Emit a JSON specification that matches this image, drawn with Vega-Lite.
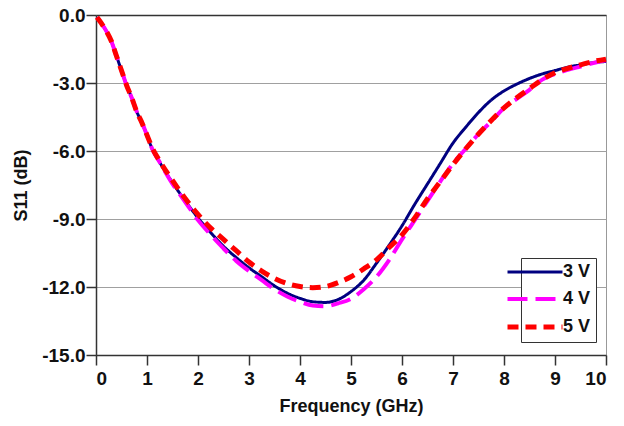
{
  "$schema": "https://vega.github.io/schema/vega-lite/v6.json",
  "width": 510,
  "height": 340,
  "autosize": "none",
  "padding": {"left": 96, "top": 15, "right": 18, "bottom": 71},
  "background": "white",
  "config": {
    "font": "Liberation Sans",
    "view": {"stroke": "#999", "strokeWidth": 1},
    "axis": {
      "labelFont": "Liberation Sans",
      "titleFont": "Liberation Sans",
      "labelFontSize": 19,
      "labelFontWeight": "bold",
      "labelColor": "#111",
      "titleFontSize": 18,
      "titleFontWeight": "bold",
      "titleColor": "#111",
      "domainColor": "#333",
      "tickColor": "#333",
      "tickSize": 10,
      "domainWidth": 1.5,
      "tickWidth": 1.5
    }
  },
  "data": {
    "values": [
      {"f": 0.02, "s": -0.1, "v": "3 V"},
      {"f": 0.1, "s": -0.35, "v": "3 V"},
      {"f": 0.2, "s": -0.7, "v": "3 V"},
      {"f": 0.3, "s": -1.15, "v": "3 V"},
      {"f": 0.4, "s": -1.8, "v": "3 V"},
      {"f": 0.5, "s": -2.45, "v": "3 V"},
      {"f": 0.6, "s": -3.1, "v": "3 V"},
      {"f": 0.7, "s": -3.65, "v": "3 V"},
      {"f": 0.8, "s": -4.27, "v": "3 V"},
      {"f": 0.9, "s": -4.75, "v": "3 V"},
      {"f": 1.0, "s": -5.3, "v": "3 V"},
      {"f": 1.1, "s": -5.9, "v": "3 V"},
      {"f": 1.25, "s": -6.5, "v": "3 V"},
      {"f": 1.5, "s": -7.4, "v": "3 V"},
      {"f": 1.75, "s": -8.2, "v": "3 V"},
      {"f": 2.0, "s": -8.95, "v": "3 V"},
      {"f": 2.25, "s": -9.6, "v": "3 V"},
      {"f": 2.5, "s": -10.2, "v": "3 V"},
      {"f": 2.75, "s": -10.7, "v": "3 V"},
      {"f": 3.0, "s": -11.15, "v": "3 V"},
      {"f": 3.25, "s": -11.55, "v": "3 V"},
      {"f": 3.5, "s": -11.95, "v": "3 V"},
      {"f": 3.75, "s": -12.27, "v": "3 V"},
      {"f": 4.0, "s": -12.5, "v": "3 V"},
      {"f": 4.25, "s": -12.65, "v": "3 V"},
      {"f": 4.5, "s": -12.68, "v": "3 V"},
      {"f": 4.75, "s": -12.55, "v": "3 V"},
      {"f": 5.0, "s": -12.2, "v": "3 V"},
      {"f": 5.25, "s": -11.7, "v": "3 V"},
      {"f": 5.5, "s": -10.95, "v": "3 V"},
      {"f": 5.75, "s": -10.15, "v": "3 V"},
      {"f": 6.0, "s": -9.3, "v": "3 V"},
      {"f": 6.25, "s": -8.35, "v": "3 V"},
      {"f": 6.5, "s": -7.45, "v": "3 V"},
      {"f": 6.75, "s": -6.55, "v": "3 V"},
      {"f": 7.0, "s": -5.65, "v": "3 V"},
      {"f": 7.25, "s": -4.95, "v": "3 V"},
      {"f": 7.5, "s": -4.3, "v": "3 V"},
      {"f": 7.75, "s": -3.75, "v": "3 V"},
      {"f": 8.0, "s": -3.35, "v": "3 V"},
      {"f": 8.25, "s": -3.05, "v": "3 V"},
      {"f": 8.5, "s": -2.8, "v": "3 V"},
      {"f": 8.75, "s": -2.6, "v": "3 V"},
      {"f": 9.0, "s": -2.45, "v": "3 V"},
      {"f": 9.25, "s": -2.3, "v": "3 V"},
      {"f": 9.5, "s": -2.2, "v": "3 V"},
      {"f": 9.75, "s": -2.1, "v": "3 V"},
      {"f": 10.0, "s": -2.05, "v": "3 V"},

      {"f": 0.02, "s": -0.1, "v": "4 V"},
      {"f": 0.1, "s": -0.35, "v": "4 V"},
      {"f": 0.2, "s": -0.7, "v": "4 V"},
      {"f": 0.3, "s": -1.15, "v": "4 V"},
      {"f": 0.4, "s": -1.8, "v": "4 V"},
      {"f": 0.5, "s": -2.45, "v": "4 V"},
      {"f": 0.6, "s": -3.1, "v": "4 V"},
      {"f": 0.7, "s": -3.65, "v": "4 V"},
      {"f": 0.8, "s": -4.27, "v": "4 V"},
      {"f": 0.9, "s": -4.75, "v": "4 V"},
      {"f": 1.0, "s": -5.3, "v": "4 V"},
      {"f": 1.1, "s": -5.9, "v": "4 V"},
      {"f": 1.25, "s": -6.5, "v": "4 V"},
      {"f": 1.5, "s": -7.45, "v": "4 V"},
      {"f": 1.75, "s": -8.25, "v": "4 V"},
      {"f": 2.0, "s": -9.05, "v": "4 V"},
      {"f": 2.25, "s": -9.7, "v": "4 V"},
      {"f": 2.5, "s": -10.3, "v": "4 V"},
      {"f": 2.75, "s": -10.85, "v": "4 V"},
      {"f": 3.0, "s": -11.3, "v": "4 V"},
      {"f": 3.25, "s": -11.7, "v": "4 V"},
      {"f": 3.5, "s": -12.1, "v": "4 V"},
      {"f": 3.75, "s": -12.42, "v": "4 V"},
      {"f": 4.0, "s": -12.65, "v": "4 V"},
      {"f": 4.25, "s": -12.82, "v": "4 V"},
      {"f": 4.5, "s": -12.85, "v": "4 V"},
      {"f": 4.75, "s": -12.72, "v": "4 V"},
      {"f": 5.0, "s": -12.52, "v": "4 V"},
      {"f": 5.25, "s": -12.1, "v": "4 V"},
      {"f": 5.5, "s": -11.55, "v": "4 V"},
      {"f": 5.75, "s": -10.8, "v": "4 V"},
      {"f": 6.0, "s": -9.9, "v": "4 V"},
      {"f": 6.25, "s": -9.05, "v": "4 V"},
      {"f": 6.5, "s": -8.2, "v": "4 V"},
      {"f": 6.75, "s": -7.35, "v": "4 V"},
      {"f": 7.0, "s": -6.55, "v": "4 V"},
      {"f": 7.25, "s": -5.9, "v": "4 V"},
      {"f": 7.5, "s": -5.25, "v": "4 V"},
      {"f": 7.75, "s": -4.7, "v": "4 V"},
      {"f": 8.0, "s": -4.1, "v": "4 V"},
      {"f": 8.25, "s": -3.7, "v": "4 V"},
      {"f": 8.5, "s": -3.3, "v": "4 V"},
      {"f": 8.75, "s": -2.85, "v": "4 V"},
      {"f": 9.0, "s": -2.6, "v": "4 V"},
      {"f": 9.25, "s": -2.42, "v": "4 V"},
      {"f": 9.5, "s": -2.27, "v": "4 V"},
      {"f": 9.75, "s": -2.12, "v": "4 V"},
      {"f": 10.0, "s": -2.0, "v": "4 V"},

      {"f": 0.02, "s": -0.1, "v": "5 V"},
      {"f": 0.1, "s": -0.35, "v": "5 V"},
      {"f": 0.2, "s": -0.7, "v": "5 V"},
      {"f": 0.3, "s": -1.15, "v": "5 V"},
      {"f": 0.4, "s": -1.8, "v": "5 V"},
      {"f": 0.5, "s": -2.45, "v": "5 V"},
      {"f": 0.6, "s": -3.1, "v": "5 V"},
      {"f": 0.7, "s": -3.65, "v": "5 V"},
      {"f": 0.8, "s": -4.27, "v": "5 V"},
      {"f": 0.9, "s": -4.75, "v": "5 V"},
      {"f": 1.0, "s": -5.3, "v": "5 V"},
      {"f": 1.1, "s": -5.85, "v": "5 V"},
      {"f": 1.25, "s": -6.45, "v": "5 V"},
      {"f": 1.5, "s": -7.3, "v": "5 V"},
      {"f": 1.75, "s": -8.1, "v": "5 V"},
      {"f": 2.0, "s": -8.8, "v": "5 V"},
      {"f": 2.25, "s": -9.4, "v": "5 V"},
      {"f": 2.5, "s": -9.9, "v": "5 V"},
      {"f": 2.75, "s": -10.4, "v": "5 V"},
      {"f": 3.0, "s": -10.9, "v": "5 V"},
      {"f": 3.25, "s": -11.3, "v": "5 V"},
      {"f": 3.5, "s": -11.62, "v": "5 V"},
      {"f": 3.75, "s": -11.85, "v": "5 V"},
      {"f": 4.0, "s": -11.98, "v": "5 V"},
      {"f": 4.25, "s": -12.03, "v": "5 V"},
      {"f": 4.5, "s": -11.98, "v": "5 V"},
      {"f": 4.75, "s": -11.8, "v": "5 V"},
      {"f": 5.0, "s": -11.55, "v": "5 V"},
      {"f": 5.25, "s": -11.2, "v": "5 V"},
      {"f": 5.5, "s": -10.8, "v": "5 V"},
      {"f": 5.75, "s": -10.25, "v": "5 V"},
      {"f": 6.0, "s": -9.7, "v": "5 V"},
      {"f": 6.25, "s": -8.95, "v": "5 V"},
      {"f": 6.5, "s": -8.1, "v": "5 V"},
      {"f": 6.75, "s": -7.35, "v": "5 V"},
      {"f": 7.0, "s": -6.6, "v": "5 V"},
      {"f": 7.25, "s": -5.9, "v": "5 V"},
      {"f": 7.5, "s": -5.25, "v": "5 V"},
      {"f": 7.75, "s": -4.65, "v": "5 V"},
      {"f": 8.0, "s": -4.1, "v": "5 V"},
      {"f": 8.25, "s": -3.65, "v": "5 V"},
      {"f": 8.5, "s": -3.25, "v": "5 V"},
      {"f": 8.75, "s": -2.85, "v": "5 V"},
      {"f": 9.0, "s": -2.55, "v": "5 V"},
      {"f": 9.25, "s": -2.35, "v": "5 V"},
      {"f": 9.5, "s": -2.2, "v": "5 V"},
      {"f": 9.75, "s": -2.05, "v": "5 V"},
      {"f": 10.0, "s": -1.95, "v": "5 V"}
    ]
  },
  "mark": {"type": "line", "interpolate": "monotone", "strokeCap": "butt"},
  "encoding": {
    "x": {
      "field": "f",
      "type": "quantitative",
      "scale": {"domain": [0, 10], "nice": false},
      "axis": {
        "title": "Frequency (GHz)",
        "values": [0, 1, 2, 3, 4, 5, 6, 7, 8, 9, 10],
        "format": "d",
        "grid": false,
        "labelPadding": 4,
        "titlePadding": 9
      }
    },
    "y": {
      "field": "s",
      "type": "quantitative",
      "scale": {"domain": [-15, 0], "nice": false, "zero": false},
      "axis": {
        "title": "S11 (dB)",
        "values": [-15, -12, -9, -6, -3, 0],
        "labelExpr": "replace(format(datum.value, '.1f'), '\u2212', '-')",
        "labelPadding": 1,
        "titlePadding": 11,
        "grid": true,
        "gridColor": {"condition": {"test": "datum.value === 0", "value": "#333"}, "value": "#a0a0a0"},
        "gridWidth": {"condition": {"test": "datum.value === 0", "value": 1.5}, "value": 1}
      }
    },
    "color": {
      "field": "v",
      "type": "nominal",
      "scale": {"domain": ["3 V", "4 V", "5 V"], "range": ["#000080", "#FF00FF", "#FF0000"]},
      "legend": {
        "title": null,
        "orient": "none",
        "legendX": 425,
        "legendY": 243,
        "strokeColor": "#333",
        "fillColor": "white",
        "padding": 5,
        "symbolType": "M-5,0H5",
        "symbolSize": 121,
        "symbolStrokeWidth": 4,
        "labelFontSize": 18,
        "labelFontWeight": "bold",
        "labelColor": "#111",
        "labelFont": "Liberation Sans",
        "labelOffset": 19,
        "rowPadding": 9
      }
    },
    "strokeDash": {
      "field": "v",
      "type": "nominal",
      "scale": {"domain": ["3 V", "4 V", "5 V"], "range": [[1, 0], [20, 8], [11, 7]]}
    },
    "strokeWidth": {
      "field": "v",
      "type": "ordinal",
      "scale": {"domain": ["3 V", "4 V", "5 V"], "range": [3, 5, 5]},
      "legend": null
    }
  }
}
